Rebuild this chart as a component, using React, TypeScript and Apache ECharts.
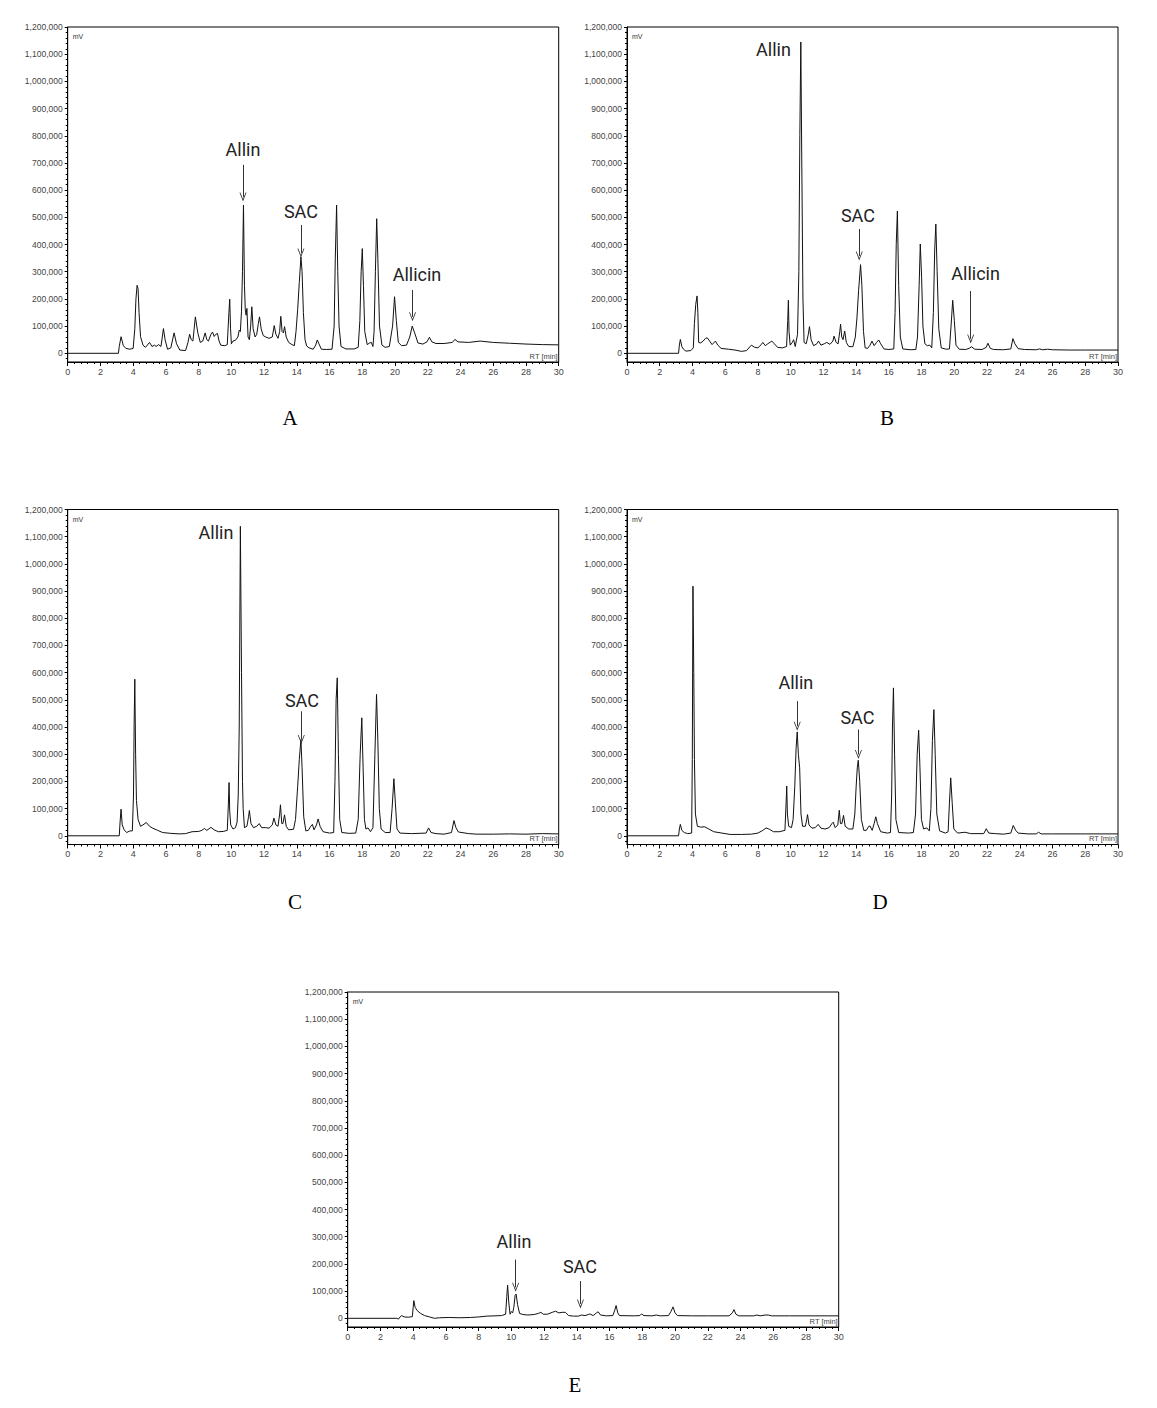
import { useEffect, useRef } from 'react';
import * as echarts from 'echarts';

// retention time axis (min) and signal axis (mV)
const RT_MIN = 0;
const RT_MAX = 30;
const RT_STEP = 2;
const MV_MIN = -32000;
const MV_MAX = 1200000;
const MV_TICKS = [0, 100000, 200000, 300000, 400000, 500000, 600000, 700000, 800000, 900000, 1000000, 1100000, 1200000];

const PANEL_NAMES = ['A', 'B', 'C', 'D', 'E'];

// chromatogram traces: [RT, mV]
const TRACE_A = [
  [0, 0], [3.1, 0], [3.15, 25000], [3.26, 61000], [3.4, 28000], [3.55, 18000], [3.8, 15000], [4.0, 18000],
  [4.1, 90000], [4.17, 200000], [4.24, 250000], [4.3, 238000], [4.36, 150000], [4.45, 61000], [4.6, 30000],
  [4.75, 22000], [5.0, 40000], [5.15, 25000], [5.3, 30000], [5.4, 25000], [5.55, 32000], [5.7, 25000],
  [5.85, 91000], [5.95, 50000], [6.1, 15000], [6.3, 20000], [6.5, 75000], [6.65, 35000], [6.85, 12000],
  [7.2, 10000], [7.35, 40000], [7.45, 70000], [7.55, 50000], [7.65, 45000], [7.8, 134000], [7.95, 75000],
  [8.1, 40000], [8.25, 45000], [8.4, 75000], [8.5, 50000], [8.6, 45000], [8.75, 70000], [8.85, 78000],
  [8.95, 62000], [9.05, 70000], [9.15, 73000], [9.25, 45000], [9.35, 30000], [9.6, 28000], [9.75, 32000],
  [9.85, 150000], [9.9, 199000], [9.95, 90000], [10.0, 35000], [10.1, 45000], [10.25, 48000], [10.4, 60000],
  [10.48, 85000], [10.55, 80000], [10.62, 155000], [10.68, 300000], [10.74, 545000], [10.8, 250000],
  [10.85, 160000], [10.9, 140000], [10.95, 165000], [11.02, 60000], [11.1, 50000], [11.18, 100000],
  [11.25, 171000], [11.33, 90000], [11.45, 60000], [11.55, 70000], [11.65, 110000], [11.72, 134000],
  [11.82, 90000], [11.95, 65000], [12.1, 60000], [12.3, 55000], [12.5, 60000], [12.62, 102000], [12.72, 70000],
  [12.85, 55000], [12.95, 80000], [13.02, 136000], [13.1, 80000], [13.18, 75000], [13.25, 98000], [13.35, 60000],
  [13.5, 40000], [13.7, 32000], [13.85, 28000], [13.95, 80000], [14.05, 160000], [14.15, 260000], [14.25, 355000],
  [14.32, 300000], [14.4, 150000], [14.5, 50000], [14.6, 27000], [14.75, 20000], [15.0, 15000], [15.15, 30000],
  [15.25, 49000], [15.35, 35000], [15.5, 15000], [15.8, 14000], [16.15, 15000], [16.28, 100000], [16.35, 350000],
  [16.43, 545000], [16.5, 300000], [16.58, 100000], [16.7, 25000], [17.0, 16000], [17.5, 16000], [17.75, 22000],
  [17.85, 120000], [17.93, 300000], [18.0, 385000], [18.07, 250000], [18.15, 80000], [18.3, 32000], [18.45, 38000],
  [18.55, 40000], [18.65, 25000], [18.72, 80000], [18.8, 300000], [18.88, 495000], [18.95, 350000], [19.05, 100000],
  [19.2, 30000], [19.4, 22000], [19.65, 25000], [19.85, 100000], [19.97, 208000], [20.08, 120000], [20.2, 40000],
  [20.4, 28000], [20.7, 30000], [20.9, 60000], [21.05, 100000], [21.2, 75000], [21.4, 38000], [21.7, 34000],
  [21.95, 42000], [22.1, 59000], [22.25, 42000], [22.5, 36000], [23.0, 36000], [23.5, 40000], [23.66, 51000],
  [23.85, 42000], [24.5, 40000], [25.2, 45000], [26.0, 40000], [27.0, 37000], [28.0, 34000], [29.0, 32000], [30.0, 31000],
];

const TRACE_B = [
  [0, 0], [3.15, 0], [3.2, 30000], [3.26, 51000], [3.35, 25000], [3.45, 15000], [3.6, 8000], [3.9, 10000],
  [4.05, 20000], [4.12, 110000], [4.2, 180000], [4.28, 211000], [4.33, 150000], [4.38, 40000], [4.5, 38000],
  [4.65, 45000], [4.8, 55000], [4.9, 57000], [5.05, 45000], [5.2, 32000], [5.4, 45000], [5.55, 30000],
  [5.75, 18000], [6.2, 15000], [6.6, 12000], [7.0, 7000], [7.3, 10000], [7.6, 30000], [7.8, 22000], [8.0, 20000],
  [8.2, 32000], [8.3, 40000], [8.45, 28000], [8.6, 35000], [8.85, 45000], [9.0, 35000], [9.2, 22000], [9.5, 20000],
  [9.75, 25000], [9.82, 120000], [9.86, 195000], [9.9, 80000], [9.97, 30000], [10.1, 40000], [10.18, 50000],
  [10.28, 25000], [10.42, 70000], [10.5, 300000], [10.56, 800000], [10.62, 1145000], [10.68, 700000],
  [10.75, 200000], [10.82, 40000], [10.95, 35000], [11.08, 70000], [11.15, 98000], [11.25, 50000], [11.4, 28000],
  [11.6, 35000], [11.7, 45000], [11.85, 30000], [12.05, 35000], [12.2, 40000], [12.4, 33000], [12.58, 45000],
  [12.65, 63000], [12.78, 40000], [12.9, 35000], [13.0, 80000], [13.05, 107000], [13.12, 60000], [13.2, 50000],
  [13.3, 82000], [13.4, 40000], [13.55, 25000], [13.8, 24000], [13.95, 60000], [14.05, 130000], [14.15, 230000],
  [14.27, 326000], [14.35, 250000], [14.45, 80000], [14.55, 20000], [14.7, 18000], [14.85, 30000], [14.97, 45000],
  [15.1, 28000], [15.25, 40000], [15.38, 49000], [15.5, 35000], [15.7, 16000], [16.0, 14000], [16.3, 16000],
  [16.38, 150000], [16.45, 400000], [16.52, 523000], [16.6, 250000], [16.7, 60000], [16.85, 16000], [17.3, 13000],
  [17.65, 14000], [17.75, 60000], [17.85, 250000], [17.92, 402000], [18.0, 280000], [18.08, 100000], [18.2, 35000],
  [18.35, 28000], [18.5, 30000], [18.62, 20000], [18.72, 150000], [18.8, 380000], [18.87, 475000], [18.95, 300000],
  [19.05, 90000], [19.2, 20000], [19.5, 15000], [19.7, 16000], [19.8, 100000], [19.9, 195000], [20.0, 120000],
  [20.1, 30000], [20.3, 15000], [20.7, 14000], [20.9, 18000], [21.05, 24000], [21.25, 15000], [21.7, 14000],
  [21.95, 22000], [22.05, 37000], [22.2, 18000], [22.4, 14000], [23.0, 13000], [23.45, 16000], [23.58, 54000],
  [23.7, 35000], [23.9, 17000], [24.3, 14000], [25.0, 13000], [25.2, 16000], [25.4, 13000], [25.7, 15000],
  [26.0, 13000], [27.0, 12000], [28.0, 12000], [30.0, 12000],
];

const TRACE_C = [
  [0, 0], [3.15, 0], [3.2, 50000], [3.26, 98000], [3.33, 40000], [3.45, 22000], [3.6, 12000], [3.8, 18000],
  [3.95, 18000], [4.02, 150000], [4.06, 414000], [4.1, 576000], [4.15, 300000], [4.2, 130000], [4.3, 60000],
  [4.45, 35000], [4.6, 40000], [4.8, 49000], [5.0, 35000], [5.2, 28000], [5.5, 20000], [5.8, 12000], [6.3, 9000],
  [6.8, 7000], [7.2, 8000], [7.6, 15000], [8.0, 16000], [8.2, 20000], [8.35, 27000], [8.5, 20000], [8.75, 31000],
  [8.95, 22000], [9.2, 15000], [9.5, 16000], [9.75, 20000], [9.82, 120000], [9.86, 196000], [9.9, 90000],
  [9.96, 40000], [10.1, 25000], [10.25, 30000], [10.35, 50000], [10.42, 150000], [10.48, 400000], [10.55, 1138000],
  [10.62, 600000], [10.68, 200000], [10.72, 101000], [10.8, 30000], [10.95, 35000], [11.05, 70000], [11.1, 93000],
  [11.2, 45000], [11.35, 30000], [11.55, 35000], [11.7, 45000], [11.85, 30000], [12.1, 30000], [12.3, 28000],
  [12.5, 40000], [12.6, 65000], [12.72, 40000], [12.85, 35000], [12.95, 80000], [13.0, 114000], [13.08, 45000],
  [13.15, 45000], [13.25, 77000], [13.35, 35000], [13.5, 22000], [13.8, 24000], [13.92, 60000], [14.05, 180000],
  [14.15, 280000], [14.25, 354000], [14.32, 250000], [14.42, 70000], [14.55, 18000], [14.7, 20000], [14.85, 35000],
  [14.95, 42000], [15.05, 22000], [15.2, 40000], [15.3, 62000], [15.42, 35000], [15.6, 15000], [16.0, 10000],
  [16.25, 12000], [16.33, 200000], [16.4, 500000], [16.47, 581000], [16.54, 300000], [16.62, 60000], [16.75, 12000],
  [17.2, 9000], [17.6, 10000], [17.75, 60000], [17.87, 300000], [17.97, 434000], [18.05, 250000], [18.13, 60000],
  [18.22, 25000], [18.35, 29000], [18.5, 15000], [18.65, 30000], [18.77, 300000], [18.87, 520000], [18.95, 350000],
  [19.04, 100000], [19.15, 25000], [19.4, 12000], [19.7, 12000], [19.82, 100000], [19.93, 210000], [20.02, 120000],
  [20.12, 25000], [20.3, 10000], [21.0, 8000], [21.9, 10000], [22.05, 29000], [22.2, 12000], [22.5, 8000],
  [23.0, 6000], [23.45, 12000], [23.6, 56000], [23.72, 30000], [23.87, 14000], [24.5, 8000], [25.0, 6000],
  [26.0, 6000], [27.0, 7000], [28.0, 6000], [29.0, 8000], [30.0, 7000],
];

const TRACE_D = [
  [0, 0], [3.15, 0], [3.2, 25000], [3.26, 42000], [3.35, 20000], [3.5, 12000], [3.7, 8000], [3.95, 10000],
  [3.99, 280000], [4.03, 918000], [4.08, 600000], [4.12, 280000], [4.18, 80000], [4.3, 35000], [4.5, 32000],
  [4.75, 33000], [5.0, 25000], [5.3, 15000], [5.8, 10000], [6.3, 5000], [7.0, 5000], [7.6, 6000], [8.0, 10000],
  [8.3, 20000], [8.5, 29000], [8.7, 24000], [8.95, 15000], [9.3, 15000], [9.65, 20000], [9.72, 120000],
  [9.76, 183000], [9.8, 80000], [9.88, 35000], [10.05, 30000], [10.15, 60000], [10.25, 180000], [10.33, 320000],
  [10.4, 382000], [10.47, 300000], [10.55, 250000], [10.63, 80000], [10.73, 35000], [10.9, 35000], [10.98, 60000],
  [11.03, 78000], [11.12, 40000], [11.3, 28000], [11.5, 30000], [11.68, 42000], [11.85, 28000], [12.1, 25000],
  [12.35, 30000], [12.52, 45000], [12.6, 50000], [12.72, 30000], [12.88, 40000], [12.97, 94000], [13.04, 45000],
  [13.13, 45000], [13.23, 75000], [13.33, 35000], [13.55, 25000], [13.8, 25000], [13.92, 80000], [14.0, 180000],
  [14.07, 250000], [14.13, 278000], [14.22, 200000], [14.32, 60000], [14.47, 20000], [14.62, 20000], [14.77, 35000],
  [14.85, 36000], [14.98, 20000], [15.1, 45000], [15.2, 70000], [15.3, 45000], [15.5, 15000], [15.9, 10000],
  [16.1, 12000], [16.17, 150000], [16.22, 400000], [16.28, 544000], [16.35, 300000], [16.43, 60000], [16.6, 12000],
  [17.2, 10000], [17.5, 12000], [17.63, 80000], [17.73, 300000], [17.82, 388000], [17.9, 250000], [17.99, 60000],
  [18.12, 25000], [18.32, 29000], [18.47, 18000], [18.57, 100000], [18.66, 350000], [18.75, 464000],
  [18.83, 300000], [18.93, 80000], [19.1, 18000], [19.45, 10000], [19.62, 15000], [19.7, 120000], [19.78, 213000],
  [19.87, 120000], [19.97, 25000], [20.2, 10000], [20.65, 13000], [21.0, 8000], [21.8, 8000], [21.95, 26000],
  [22.1, 10000], [22.5, 8000], [23.0, 6000], [23.45, 10000], [23.6, 38000], [23.75, 20000], [23.9, 10000],
  [24.5, 7000], [25.0, 7000], [25.15, 13000], [25.3, 7000], [26.0, 7000], [28.0, 7000], [30.0, 7000],
];

const TRACE_E = [
  [0, 0], [3.0, 0], [3.1, -3000], [3.2, 5000], [3.3, 10000], [3.45, 5000], [3.7, 4000], [3.95, 6000], [4.0, 40000],
  [4.04, 65000], [4.12, 40000], [4.25, 28000], [4.45, 18000], [4.7, 10000], [5.0, 5000], [5.3, 0], [5.6, 2000],
  [6.2, 3000], [6.8, 2000], [7.5, 3000], [8.0, 5000], [8.5, 8000], [9.0, 9000], [9.4, 10000], [9.65, 15000],
  [9.72, 80000], [9.77, 122000], [9.84, 60000], [9.92, 15000], [10.0, 25000], [10.08, 20000], [10.15, 40000],
  [10.23, 85000], [10.29, 89000], [10.38, 50000], [10.5, 18000], [10.7, 14000], [11.0, 12000], [11.4, 14000],
  [11.65, 18000], [11.8, 22000], [11.95, 15000], [12.2, 15000], [12.5, 22000], [12.7, 26000], [12.9, 20000],
  [13.1, 22000], [13.3, 22000], [13.5, 10000], [13.8, 8000], [14.1, 8000], [14.3, 12000], [14.5, 10000],
  [14.7, 14000], [14.8, 16000], [15.0, 10000], [15.2, 20000], [15.3, 24000], [15.45, 12000], [15.8, 9000],
  [16.2, 10000], [16.32, 30000], [16.4, 47000], [16.5, 20000], [16.6, 10000], [17.5, 9000], [17.85, 10000],
  [17.95, 16000], [18.1, 10000], [18.6, 9000], [18.85, 12000], [19.1, 9000], [19.6, 10000], [19.75, 25000],
  [19.88, 42000], [20.0, 20000], [20.15, 10000], [21.0, 9000], [22.0, 9000], [23.3, 9000], [23.5, 20000],
  [23.6, 32000], [23.72, 15000], [23.9, 9000], [24.8, 9000], [25.0, 12000], [25.2, 9000], [25.5, 12000],
  [25.7, 12000], [25.9, 9000], [27.0, 9000], [30.0, 9000],
];

// peak annotations: label position, then arrow from -> to (null when no arrow)
const NOTES_A = [
  { name: 'Allin', labelRt: 10.71, labelMv: 748000, arrowRt: 10.71, from: 693000, to: 575000 },
  { name: 'SAC', labelRt: 14.25, labelMv: 523000, arrowRt: 14.25, from: 472000, to: 369000 },
  { name: 'Allicin', labelRt: 21.34, labelMv: 288000, arrowRt: 21.07, from: 233000, to: 134000 },
];
const NOTES_B = [
  { name: 'Allin', labelRt: 8.95, labelMv: 1119000, arrowRt: null, from: null, to: null },
  { name: 'SAC', labelRt: 14.11, labelMv: 505000, arrowRt: 14.19, from: 457000, to: 358000 },
  { name: 'Allicin', labelRt: 21.3, labelMv: 295000, arrowRt: 21.0, from: 229000, to: 53000 },
];
const NOTES_C = [
  { name: 'Allin', labelRt: 9.06, labelMv: 1117000, arrowRt: null, from: null, to: null },
  { name: 'SAC', labelRt: 14.31, labelMv: 498000, arrowRt: 14.27, from: 458000, to: 354000 },
];
const NOTES_D = [
  { name: 'Allin', labelRt: 10.32, labelMv: 564000, arrowRt: 10.4, from: 495000, to: 403000 },
  { name: 'SAC', labelRt: 14.08, labelMv: 435000, arrowRt: 14.14, from: 391000, to: 299000 },
];
const NOTES_E = [
  { name: 'Allin', labelRt: 10.16, labelMv: 281000, arrowRt: 10.26, from: 216000, to: 114000 },
  { name: 'SAC', labelRt: 14.19, labelMv: 189000, arrowRt: 14.22, from: 137000, to: 53000 },
];

const TRACES = [TRACE_A, TRACE_B, TRACE_C, TRACE_D, TRACE_E];
const NOTES = [NOTES_A, NOTES_B, NOTES_C, NOTES_D, NOTES_E];

// page layout (px)
const PAGE_W = 1157;
const PAGE_H = 1408;
const PLOT_W = 491;
const PLOT_H = 335;
const PLOTS = [
  { left: 67.7, top: 27 },
  { left: 627, top: 27 },
  { left: 67.7, top: 509.5 },
  { left: 627, top: 509.5 },
  { left: 347.7, top: 992 },
];
const LETTER_POS = [
  [290, 418],
  [887, 418],
  [295, 902],
  [880, 902],
  [575, 1385],
];

const TICK_FONT = "'Liberation Sans', Arial, sans-serif";
const NOTE_FONT = "Roboto, 'Noto Sans', sans-serif";
const ARROW_HEAD = 'path://M5,0 L10,10 L8.8,10 L5,2.6 L1.2,10 L0,10 Z';

const fmt = (v: number) => v.toLocaleString('en-US');

const minorMv: number[] = [];
for (let v = -20000; v <= MV_MAX; v += 20000) {
  if (v % 100000 !== 0) minorMv.push(v);
}

export default function App() {
  const chartRef = useRef<HTMLDivElement>(null);

  useEffect(() => {
    if (!chartRef.current) return;
    const chart = echarts.init(chartRef.current, null, { renderer: 'svg' });

    const grid = PLOTS.map((p) => ({
      left: p.left,
      top: p.top,
      width: PLOT_W,
      height: PLOT_H,
      show: true,
      borderColor: '#000',
      borderWidth: 1,
      backgroundColor: 'transparent',
      containLabel: false,
      outerBoundsMode: 'none',
    }));

    const xAxis = PLOTS.map((_, i) => ({
      type: 'value',
      gridIndex: i,
      min: RT_MIN,
      max: RT_MAX,
      interval: RT_STEP,
      axisLine: { show: true, onZero: false, lineStyle: { color: '#000', width: 1 } },
      axisTick: { show: true, length: 4, lineStyle: { color: '#000' } },
      minorTick: { show: true, splitNumber: 5, length: 2, lineStyle: { color: '#000' } },
      splitLine: { show: false },
      minorSplitLine: { show: false },
      axisLabel: { fontSize: 9, color: '#444', margin: 5, fontFamily: TICK_FONT },
      name: 'RT [min]',
      nameLocation: 'end',
      nameGap: 0,
      nameTextStyle: {
        fontSize: 7.5,
        color: '#444',
        fontFamily: TICK_FONT,
        align: 'right',
        verticalAlign: 'bottom',
        padding: [0, 1, 2, 0],
      },
    }));

    const yAxis: any[] = [];
    PLOTS.forEach((_, i) => {
      yAxis.push({
        type: 'value',
        gridIndex: i,
        min: MV_MIN,
        max: MV_MAX,
        position: 'left',
        axisLine: { show: true, onZero: false, lineStyle: { color: '#000', width: 1 } },
        axisTick: { show: true, length: 3, customValues: MV_TICKS, lineStyle: { color: '#000' } },
        axisLabel: {
          customValues: MV_TICKS,
          formatter: (v: number) => fmt(v),
          fontSize: 8.5,
          color: '#444',
          margin: 5,
          fontFamily: TICK_FONT,
        },
        splitLine: { show: false },
        name: 'mV',
        nameLocation: 'end',
        nameGap: -6,
        nameTextStyle: {
          fontSize: 7,
          color: '#333',
          fontFamily: TICK_FONT,
          align: 'left',
          verticalAlign: 'top',
          padding: [0, 0, 0, 5],
        },
      });
      yAxis.push({
        type: 'value',
        gridIndex: i,
        min: MV_MIN,
        max: MV_MAX,
        position: 'left',
        axisLine: { show: false },
        axisTick: { show: true, length: 2, customValues: minorMv, lineStyle: { color: '#000' } },
        axisLabel: { show: false, customValues: minorMv },
        splitLine: { show: false },
      });
    });

    const series = TRACES.map((trace, i) => {
      const notes = NOTES[i];
      return {
        type: 'line',
        name: PANEL_NAMES[i],
        xAxisIndex: i,
        yAxisIndex: i * 2,
        data: trace,
        showSymbol: false,
        symbol: 'none',
        lineStyle: { color: '#111', width: 1 },
        clip: true,
        markLine: {
          silent: true,
          symbol: ['none', ARROW_HEAD],
          symbolSize: [7, 9],
          lineStyle: { color: '#333', width: 1, type: 'solid' },
          label: { show: false },
          data: notes
            .filter((n) => n.from !== null)
            .map((n) => [
              { coord: [n.arrowRt, n.from] },
              { coord: [n.arrowRt, n.to] },
            ]),
        },
        markPoint: {
          silent: true,
          symbol: 'circle',
          symbolSize: 1,
          itemStyle: { color: 'rgba(0,0,0,0)' },
          label: {
            show: true,
            position: 'inside',
            formatter: (p: any) => p.name,
            fontSize: 18,
            color: '#222',
            fontFamily: NOTE_FONT,
          },
          data: notes.map((n) => ({ name: n.name, coord: [n.labelRt, n.labelMv] })),
        },
      };
    });

    const graphic = PANEL_NAMES.map((letter, i) => ({
      type: 'text',
      x: LETTER_POS[i][0],
      y: LETTER_POS[i][1],
      style: {
        text: letter,
        fill: '#000',
        fontSize: 21,
        fontFamily: "'Liberation Serif', 'DejaVu Serif', serif",
        textAlign: 'center',
        textVerticalAlign: 'middle',
        align: 'center',
        verticalAlign: 'middle',
      },
    }));

    chart.setOption({
      animation: false,
      backgroundColor: '#fff',
      grid,
      xAxis,
      yAxis,
      series,
      graphic,
    } as any);

    return () => {
      chart.dispose();
    };
  }, []);

  return (
    <div
      ref={chartRef}
      style={{ position: 'absolute', left: 0, top: 0, width: PAGE_W, height: PAGE_H }}
    />
  );
}
